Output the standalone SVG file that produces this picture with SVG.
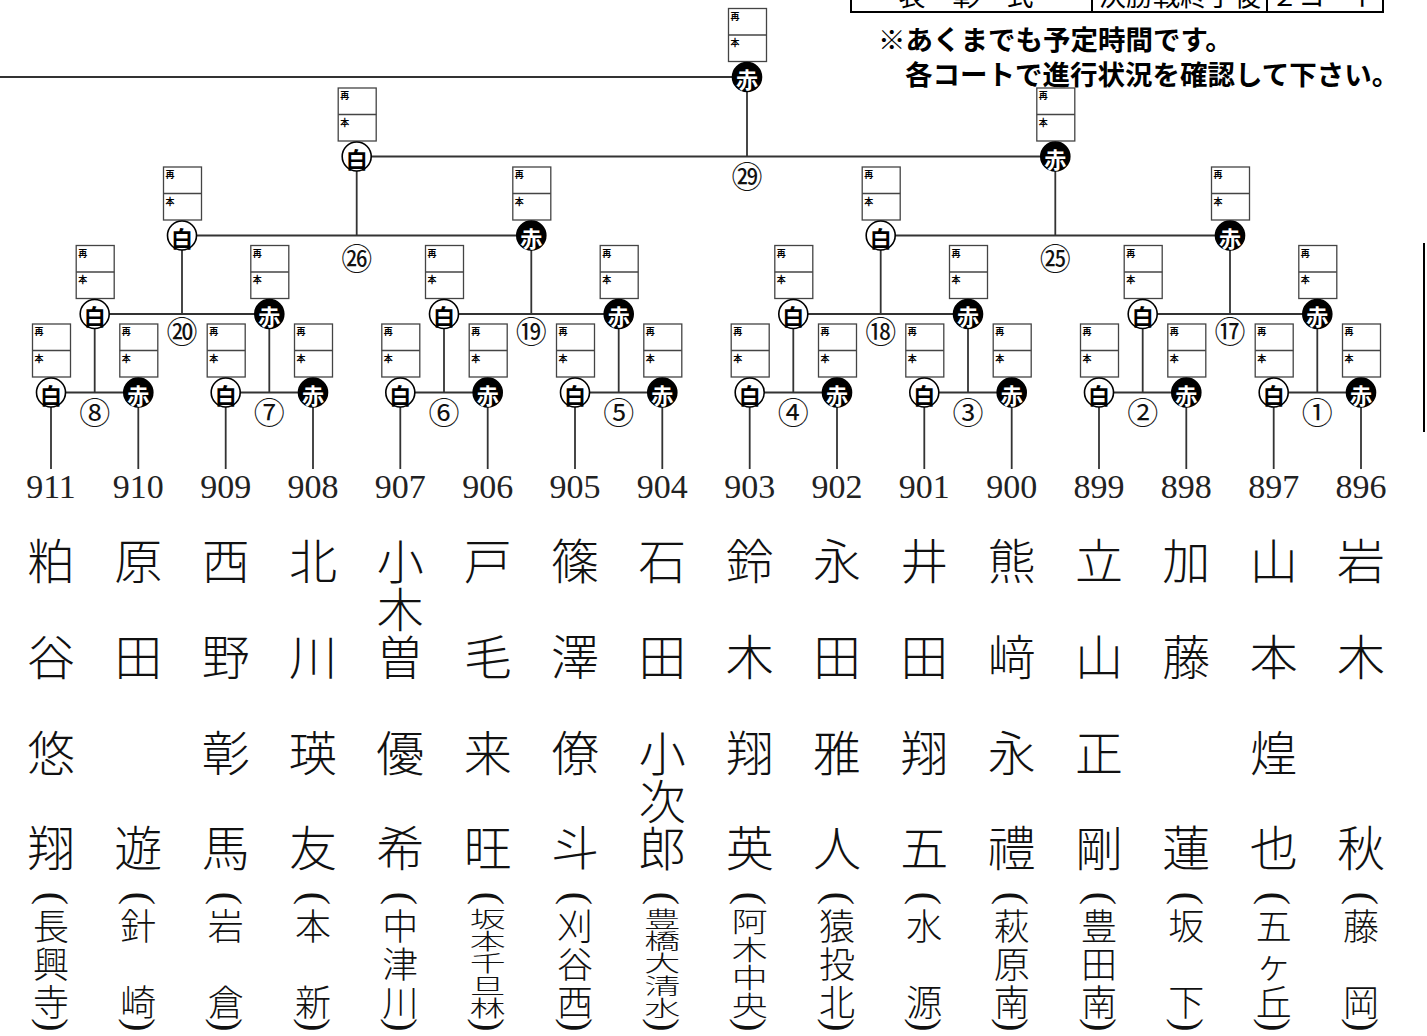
<svg xmlns="http://www.w3.org/2000/svg" width="1427" height="1036" viewBox="0 0 1427 1036">
<style>
.ln{fill:none;stroke:#333;stroke-width:1.8}
.bx{fill:#fff;stroke:#444;stroke-width:1.3}
.dv{stroke:#444;stroke-width:1.3}
.bt{font-family:"Noto Sans CJK JP",sans-serif;font-size:9px;font-weight:700;fill:#000}
.cw{fill:#fff;stroke:#000;stroke-width:1.6}
.cb{fill:#000;stroke:#000;stroke-width:1.6}
.mk{font-family:"Noto Sans CJK JP",sans-serif;font-size:22px;font-weight:700;text-anchor:middle;dominant-baseline:central}
.mw{fill:#000}
.mb{fill:#fff}
.rn{font-family:"Noto Sans CJK JP",sans-serif;font-size:31px;text-anchor:middle;dominant-baseline:central;fill:#111}
.num{font-family:"Liberation Serif",serif;font-size:34px;text-anchor:middle;fill:#222}
.nm{font-family:"Noto Sans CJK JP",sans-serif;font-size:48px;font-weight:300;text-anchor:middle;dominant-baseline:central;fill:#111}
.n3{font-size:47px}
.sc{font-family:"Noto Sans CJK JP",sans-serif;font-size:36px;font-weight:300;text-anchor:middle;dominant-baseline:central;fill:#111}
.pr{font-family:"Liberation Serif",serif;font-size:40px;text-anchor:middle;dominant-baseline:central;fill:#111}
.note{font-family:"Noto Sans CJK JP",sans-serif;font-size:27.5px;font-weight:700;dominant-baseline:central;fill:#000}
.tt{font-family:"Noto Sans CJK JP",sans-serif;font-size:27px;text-anchor:middle;fill:#000}
.tb{fill:none;stroke:#000;stroke-width:2}
</style>
<rect width="1427" height="1036" fill="#fff"/>

<g id="header">
<path class="tb" d="M851 0V12H1383V0M1092 0V12M1267 0V12"/>
<text class="tt" x="966" y="6">表　彰　式</text>
<text class="tt" x="1180" y="6">決勝戦終了後</text>
<text class="tt" x="1325" y="6">２コート</text>
<text class="note" x="878" y="38">※あくまでも予定時間です。</text>
<text class="note" x="905" y="73">各コートで進行状況を確認して下さい。</text>
<path class="tb" d="M1424 243V432"/>
</g>

<g id="connectors">
<path class="ln" d="M51 392.5H138.3M94.7 392.5V314M51 392.5V469M138.3 392.5V469"/>
<path class="ln" d="M225.7 392.5H313M269.3 392.5V314M225.7 392.5V469M313 392.5V469"/>
<path class="ln" d="M400.3 392.5H487.7M444 392.5V314M400.3 392.5V469M487.7 392.5V469"/>
<path class="ln" d="M575 392.5H662.3M618.7 392.5V314M575 392.5V469M662.3 392.5V469"/>
<path class="ln" d="M749.7 392.5H837M793.3 392.5V314M749.7 392.5V469M837 392.5V469"/>
<path class="ln" d="M924.3 392.5H1011.7M968 392.5V314M924.3 392.5V469M1011.7 392.5V469"/>
<path class="ln" d="M1099 392.5H1186.3M1142.7 392.5V314M1099 392.5V469M1186.3 392.5V469"/>
<path class="ln" d="M1273.7 392.5H1361M1317.3 392.5V314M1273.7 392.5V469M1361 392.5V469"/>
<path class="ln" d="M94.7 314H269.3M182 314V235.5"/>
<path class="ln" d="M444 314H618.7M531.3 314V235.5"/>
<path class="ln" d="M793.3 314H968M880.7 314V235.5"/>
<path class="ln" d="M1142.7 314H1317.3M1230 314V235.5"/>
<path class="ln" d="M182 235.5H531.3M356.7 235.5V156.5"/>
<path class="ln" d="M880.7 235.5H1230M1055.3 235.5V156.5"/>
<path class="ln" d="M356.7 156.5H1055.3M747 156.5V77"/>
<path class="ln" d="M0 77H747"/>
<text class="rn" x="94.7" y="410.5">⑧</text>
<text class="rn" x="269.3" y="410.5">⑦</text>
<text class="rn" x="444" y="410.5">⑥</text>
<text class="rn" x="618.7" y="410.5">⑤</text>
<text class="rn" x="793.3" y="410.5">④</text>
<text class="rn" x="968" y="410.5">③</text>
<text class="rn" x="1142.7" y="410.5">②</text>
<text class="rn" x="1317.3" y="410.5">①</text>
<text class="rn" x="182" y="329.5">⑳</text>
<text class="rn" x="531.3" y="329.5">⑲</text>
<text class="rn" x="880.7" y="329.5">⑱</text>
<text class="rn" x="1230" y="329.5">⑰</text>
<text class="rn" x="356.7" y="256">㉖</text>
<text class="rn" x="1055.3" y="256">㉕</text>
<text class="rn" x="747" y="174">㉙</text>
</g>

<g id="r1-911" transform="translate(51,392.5)"><rect class="bx" x="-18.5" y="-68.5" width="38" height="53"/><line class="dv" x1="-18.5" y1="-42" x2="19.5" y2="-42"/><text class="bt" x="-16.5" y="-57.5">再</text><text class="bt" x="-16.5" y="-31">本</text><circle class="cw" r="14.5"/><text class="mk mw" y="1">白</text></g>
<g id="r1-910" transform="translate(138.3,392.5)"><rect class="bx" x="-18.5" y="-68.5" width="38" height="53"/><line class="dv" x1="-18.5" y1="-42" x2="19.5" y2="-42"/><text class="bt" x="-16.5" y="-57.5">再</text><text class="bt" x="-16.5" y="-31">本</text><circle class="cb" r="14.5"/><text class="mk mb" y="1">赤</text></g>
<g id="r1-909" transform="translate(225.7,392.5)"><rect class="bx" x="-18.5" y="-68.5" width="38" height="53"/><line class="dv" x1="-18.5" y1="-42" x2="19.5" y2="-42"/><text class="bt" x="-16.5" y="-57.5">再</text><text class="bt" x="-16.5" y="-31">本</text><circle class="cw" r="14.5"/><text class="mk mw" y="1">白</text></g>
<g id="r1-908" transform="translate(313,392.5)"><rect class="bx" x="-18.5" y="-68.5" width="38" height="53"/><line class="dv" x1="-18.5" y1="-42" x2="19.5" y2="-42"/><text class="bt" x="-16.5" y="-57.5">再</text><text class="bt" x="-16.5" y="-31">本</text><circle class="cb" r="14.5"/><text class="mk mb" y="1">赤</text></g>
<g id="r1-907" transform="translate(400.3,392.5)"><rect class="bx" x="-18.5" y="-68.5" width="38" height="53"/><line class="dv" x1="-18.5" y1="-42" x2="19.5" y2="-42"/><text class="bt" x="-16.5" y="-57.5">再</text><text class="bt" x="-16.5" y="-31">本</text><circle class="cw" r="14.5"/><text class="mk mw" y="1">白</text></g>
<g id="r1-906" transform="translate(487.7,392.5)"><rect class="bx" x="-18.5" y="-68.5" width="38" height="53"/><line class="dv" x1="-18.5" y1="-42" x2="19.5" y2="-42"/><text class="bt" x="-16.5" y="-57.5">再</text><text class="bt" x="-16.5" y="-31">本</text><circle class="cb" r="14.5"/><text class="mk mb" y="1">赤</text></g>
<g id="r1-905" transform="translate(575,392.5)"><rect class="bx" x="-18.5" y="-68.5" width="38" height="53"/><line class="dv" x1="-18.5" y1="-42" x2="19.5" y2="-42"/><text class="bt" x="-16.5" y="-57.5">再</text><text class="bt" x="-16.5" y="-31">本</text><circle class="cw" r="14.5"/><text class="mk mw" y="1">白</text></g>
<g id="r1-904" transform="translate(662.3,392.5)"><rect class="bx" x="-18.5" y="-68.5" width="38" height="53"/><line class="dv" x1="-18.5" y1="-42" x2="19.5" y2="-42"/><text class="bt" x="-16.5" y="-57.5">再</text><text class="bt" x="-16.5" y="-31">本</text><circle class="cb" r="14.5"/><text class="mk mb" y="1">赤</text></g>
<g id="r1-903" transform="translate(749.7,392.5)"><rect class="bx" x="-18.5" y="-68.5" width="38" height="53"/><line class="dv" x1="-18.5" y1="-42" x2="19.5" y2="-42"/><text class="bt" x="-16.5" y="-57.5">再</text><text class="bt" x="-16.5" y="-31">本</text><circle class="cw" r="14.5"/><text class="mk mw" y="1">白</text></g>
<g id="r1-902" transform="translate(837,392.5)"><rect class="bx" x="-18.5" y="-68.5" width="38" height="53"/><line class="dv" x1="-18.5" y1="-42" x2="19.5" y2="-42"/><text class="bt" x="-16.5" y="-57.5">再</text><text class="bt" x="-16.5" y="-31">本</text><circle class="cb" r="14.5"/><text class="mk mb" y="1">赤</text></g>
<g id="r1-901" transform="translate(924.3,392.5)"><rect class="bx" x="-18.5" y="-68.5" width="38" height="53"/><line class="dv" x1="-18.5" y1="-42" x2="19.5" y2="-42"/><text class="bt" x="-16.5" y="-57.5">再</text><text class="bt" x="-16.5" y="-31">本</text><circle class="cw" r="14.5"/><text class="mk mw" y="1">白</text></g>
<g id="r1-900" transform="translate(1011.7,392.5)"><rect class="bx" x="-18.5" y="-68.5" width="38" height="53"/><line class="dv" x1="-18.5" y1="-42" x2="19.5" y2="-42"/><text class="bt" x="-16.5" y="-57.5">再</text><text class="bt" x="-16.5" y="-31">本</text><circle class="cb" r="14.5"/><text class="mk mb" y="1">赤</text></g>
<g id="r1-899" transform="translate(1099,392.5)"><rect class="bx" x="-18.5" y="-68.5" width="38" height="53"/><line class="dv" x1="-18.5" y1="-42" x2="19.5" y2="-42"/><text class="bt" x="-16.5" y="-57.5">再</text><text class="bt" x="-16.5" y="-31">本</text><circle class="cw" r="14.5"/><text class="mk mw" y="1">白</text></g>
<g id="r1-898" transform="translate(1186.3,392.5)"><rect class="bx" x="-18.5" y="-68.5" width="38" height="53"/><line class="dv" x1="-18.5" y1="-42" x2="19.5" y2="-42"/><text class="bt" x="-16.5" y="-57.5">再</text><text class="bt" x="-16.5" y="-31">本</text><circle class="cb" r="14.5"/><text class="mk mb" y="1">赤</text></g>
<g id="r1-897" transform="translate(1273.7,392.5)"><rect class="bx" x="-18.5" y="-68.5" width="38" height="53"/><line class="dv" x1="-18.5" y1="-42" x2="19.5" y2="-42"/><text class="bt" x="-16.5" y="-57.5">再</text><text class="bt" x="-16.5" y="-31">本</text><circle class="cw" r="14.5"/><text class="mk mw" y="1">白</text></g>
<g id="r1-896" transform="translate(1361,392.5)"><rect class="bx" x="-18.5" y="-68.5" width="38" height="53"/><line class="dv" x1="-18.5" y1="-42" x2="19.5" y2="-42"/><text class="bt" x="-16.5" y="-57.5">再</text><text class="bt" x="-16.5" y="-31">本</text><circle class="cb" r="14.5"/><text class="mk mb" y="1">赤</text></g>

<g id="r2-8" transform="translate(94.7,314)"><rect class="bx" x="-18.5" y="-68.5" width="38" height="53"/><line class="dv" x1="-18.5" y1="-42" x2="19.5" y2="-42"/><text class="bt" x="-16.5" y="-57.5">再</text><text class="bt" x="-16.5" y="-31">本</text><circle class="cw" r="14.5"/><text class="mk mw" y="1">白</text></g>
<g id="r2-7" transform="translate(269.3,314)"><rect class="bx" x="-18.5" y="-68.5" width="38" height="53"/><line class="dv" x1="-18.5" y1="-42" x2="19.5" y2="-42"/><text class="bt" x="-16.5" y="-57.5">再</text><text class="bt" x="-16.5" y="-31">本</text><circle class="cb" r="14.5"/><text class="mk mb" y="1">赤</text></g>
<g id="r2-6" transform="translate(444,314)"><rect class="bx" x="-18.5" y="-68.5" width="38" height="53"/><line class="dv" x1="-18.5" y1="-42" x2="19.5" y2="-42"/><text class="bt" x="-16.5" y="-57.5">再</text><text class="bt" x="-16.5" y="-31">本</text><circle class="cw" r="14.5"/><text class="mk mw" y="1">白</text></g>
<g id="r2-5" transform="translate(618.7,314)"><rect class="bx" x="-18.5" y="-68.5" width="38" height="53"/><line class="dv" x1="-18.5" y1="-42" x2="19.5" y2="-42"/><text class="bt" x="-16.5" y="-57.5">再</text><text class="bt" x="-16.5" y="-31">本</text><circle class="cb" r="14.5"/><text class="mk mb" y="1">赤</text></g>
<g id="r2-4" transform="translate(793.3,314)"><rect class="bx" x="-18.5" y="-68.5" width="38" height="53"/><line class="dv" x1="-18.5" y1="-42" x2="19.5" y2="-42"/><text class="bt" x="-16.5" y="-57.5">再</text><text class="bt" x="-16.5" y="-31">本</text><circle class="cw" r="14.5"/><text class="mk mw" y="1">白</text></g>
<g id="r2-3" transform="translate(968,314)"><rect class="bx" x="-18.5" y="-68.5" width="38" height="53"/><line class="dv" x1="-18.5" y1="-42" x2="19.5" y2="-42"/><text class="bt" x="-16.5" y="-57.5">再</text><text class="bt" x="-16.5" y="-31">本</text><circle class="cb" r="14.5"/><text class="mk mb" y="1">赤</text></g>
<g id="r2-2" transform="translate(1142.7,314)"><rect class="bx" x="-18.5" y="-68.5" width="38" height="53"/><line class="dv" x1="-18.5" y1="-42" x2="19.5" y2="-42"/><text class="bt" x="-16.5" y="-57.5">再</text><text class="bt" x="-16.5" y="-31">本</text><circle class="cw" r="14.5"/><text class="mk mw" y="1">白</text></g>
<g id="r2-1" transform="translate(1317.3,314)"><rect class="bx" x="-18.5" y="-68.5" width="38" height="53"/><line class="dv" x1="-18.5" y1="-42" x2="19.5" y2="-42"/><text class="bt" x="-16.5" y="-57.5">再</text><text class="bt" x="-16.5" y="-31">本</text><circle class="cb" r="14.5"/><text class="mk mb" y="1">赤</text></g>

<g id="r3-20" transform="translate(182,235.5)"><rect class="bx" x="-18.5" y="-68.5" width="38" height="53"/><line class="dv" x1="-18.5" y1="-42" x2="19.5" y2="-42"/><text class="bt" x="-16.5" y="-57.5">再</text><text class="bt" x="-16.5" y="-31">本</text><circle class="cw" r="14.5"/><text class="mk mw" y="1">白</text></g>
<g id="r3-19" transform="translate(531.3,235.5)"><rect class="bx" x="-18.5" y="-68.5" width="38" height="53"/><line class="dv" x1="-18.5" y1="-42" x2="19.5" y2="-42"/><text class="bt" x="-16.5" y="-57.5">再</text><text class="bt" x="-16.5" y="-31">本</text><circle class="cb" r="14.5"/><text class="mk mb" y="1">赤</text></g>
<g id="r3-18" transform="translate(880.7,235.5)"><rect class="bx" x="-18.5" y="-68.5" width="38" height="53"/><line class="dv" x1="-18.5" y1="-42" x2="19.5" y2="-42"/><text class="bt" x="-16.5" y="-57.5">再</text><text class="bt" x="-16.5" y="-31">本</text><circle class="cw" r="14.5"/><text class="mk mw" y="1">白</text></g>
<g id="r3-17" transform="translate(1230,235.5)"><rect class="bx" x="-18.5" y="-68.5" width="38" height="53"/><line class="dv" x1="-18.5" y1="-42" x2="19.5" y2="-42"/><text class="bt" x="-16.5" y="-57.5">再</text><text class="bt" x="-16.5" y="-31">本</text><circle class="cb" r="14.5"/><text class="mk mb" y="1">赤</text></g>

<g id="r4-26" transform="translate(356.7,156.5)"><rect class="bx" x="-18.5" y="-68.5" width="38" height="53"/><line class="dv" x1="-18.5" y1="-42" x2="19.5" y2="-42"/><text class="bt" x="-16.5" y="-57.5">再</text><text class="bt" x="-16.5" y="-31">本</text><circle class="cw" r="14.5"/><text class="mk mw" y="1">白</text></g>
<g id="r4-25" transform="translate(1055.3,156.5)"><rect class="bx" x="-18.5" y="-68.5" width="38" height="53"/><line class="dv" x1="-18.5" y1="-42" x2="19.5" y2="-42"/><text class="bt" x="-16.5" y="-57.5">再</text><text class="bt" x="-16.5" y="-31">本</text><circle class="cb" r="14.5"/><text class="mk mb" y="1">赤</text></g>

<g id="r5-29" transform="translate(747,77)"><rect class="bx" x="-18.5" y="-68.5" width="38" height="53"/><line class="dv" x1="-18.5" y1="-42" x2="19.5" y2="-42"/><text class="bt" x="-16.5" y="-57.5">再</text><text class="bt" x="-16.5" y="-31">本</text><circle class="cb" r="14.5"/><text class="mk mb" y="1">赤</text></g>

<g id="p911"><text class="num" x="51" y="498">911</text><text class="nm"><tspan x="51" y="558">粕</tspan><tspan x="51" y="654">谷</tspan><tspan x="51" y="750">悠</tspan><tspan x="51" y="845">翔</tspan></text><text class="pr" transform="translate(53,898.5) rotate(90)">(</text><text class="sc"><tspan x="51" y="924">長</tspan><tspan x="51" y="962">興</tspan><tspan x="51" y="1000">寺</tspan></text><text class="pr" transform="translate(53,1025) rotate(90)">)</text></g>
<g id="p910"><text class="num" x="138.3" y="498">910</text><text class="nm"><tspan x="138.3" y="558">原</tspan><tspan x="138.3" y="654">田</tspan><tspan x="138.3" y="845">遊</tspan></text><text class="pr" transform="translate(140.3,898.5) rotate(90)">(</text><text class="sc"><tspan x="138.3" y="924">針</tspan><tspan x="138.3" y="1000">崎</tspan></text><text class="pr" transform="translate(140.3,1025) rotate(90)">)</text></g>
<g id="p909"><text class="num" x="225.7" y="498">909</text><text class="nm"><tspan x="225.7" y="558">西</tspan><tspan x="225.7" y="654">野</tspan><tspan x="225.7" y="750">彰</tspan><tspan x="225.7" y="845">馬</tspan></text><text class="pr" transform="translate(227.7,898.5) rotate(90)">(</text><text class="sc"><tspan x="225.7" y="924">岩</tspan><tspan x="225.7" y="1000">倉</tspan></text><text class="pr" transform="translate(227.7,1025) rotate(90)">)</text></g>
<g id="p908"><text class="num" x="313" y="498">908</text><text class="nm"><tspan x="313" y="558">北</tspan><tspan x="313" y="654">川</tspan><tspan x="313" y="750">瑛</tspan><tspan x="313" y="845">友</tspan></text><text class="pr" transform="translate(315,898.5) rotate(90)">(</text><text class="sc"><tspan x="313" y="924">本</tspan><tspan x="313" y="1000">新</tspan></text><text class="pr" transform="translate(315,1025) rotate(90)">)</text></g>
<g id="p907"><text class="num" x="400.3" y="498">907</text><text class="nm"><tspan class="n3" x="400.3" y="558">小</tspan><tspan class="n3" x="400.3" y="606">木</tspan><tspan class="n3" x="400.3" y="654">曽</tspan><tspan x="400.3" y="750">優</tspan><tspan x="400.3" y="845">希</tspan></text><text class="pr" transform="translate(402.3,898.5) rotate(90)">(</text><text class="sc"><tspan x="400.3" y="924">中</tspan><tspan x="400.3" y="962">津</tspan><tspan x="400.3" y="1000">川</tspan></text><text class="pr" transform="translate(402.3,1025) rotate(90)">)</text></g>
<g id="p906"><text class="num" x="487.7" y="498">906</text><text class="nm"><tspan x="487.7" y="558">戸</tspan><tspan x="487.7" y="654">毛</tspan><tspan x="487.7" y="750">来</tspan><tspan x="487.7" y="845">旺</tspan></text><text class="pr" transform="translate(489.7,898.5) rotate(90)">(</text><text class="sc" transform="matrix(1 0 0 0.6 0 384.8)"><tspan x="487.7" y="887.3">坂</tspan><tspan x="487.7" y="924.7">本</tspan><tspan x="487.7" y="962">千</tspan><tspan x="487.7" y="999.3">旦</tspan><tspan x="487.7" y="1036.7">林</tspan></text><text class="pr" transform="translate(489.7,1025) rotate(90)">)</text></g>
<g id="p905"><text class="num" x="575" y="498">905</text><text class="nm"><tspan x="575" y="558">篠</tspan><tspan x="575" y="654">澤</tspan><tspan x="575" y="750">僚</tspan><tspan x="575" y="845">斗</tspan></text><text class="pr" transform="translate(577,898.5) rotate(90)">(</text><text class="sc"><tspan x="575" y="924">刈</tspan><tspan x="575" y="962">谷</tspan><tspan x="575" y="1000">西</tspan></text><text class="pr" transform="translate(577,1025) rotate(90)">)</text></g>
<g id="p904"><text class="num" x="662.3" y="498">904</text><text class="nm"><tspan x="662.3" y="558">石</tspan><tspan x="662.3" y="654">田</tspan><tspan class="n3" x="662.3" y="750">小</tspan><tspan class="n3" x="662.3" y="797.5">次</tspan><tspan class="n3" x="662.3" y="845">郎</tspan></text><text class="pr" transform="translate(664.3,898.5) rotate(90)">(</text><text class="sc" transform="matrix(1 0 0 0.6 0 384.8)"><tspan x="662.3" y="887.3">豊</tspan><tspan x="662.3" y="924.7">橋</tspan><tspan x="662.3" y="962">大</tspan><tspan x="662.3" y="999.3">清</tspan><tspan x="662.3" y="1036.7">水</tspan></text><text class="pr" transform="translate(664.3,1025) rotate(90)">)</text></g>
<g id="p903"><text class="num" x="749.7" y="498">903</text><text class="nm"><tspan x="749.7" y="558">鈴</tspan><tspan x="749.7" y="654">木</tspan><tspan x="749.7" y="750">翔</tspan><tspan x="749.7" y="845">英</tspan></text><text class="pr" transform="translate(751.7,898.5) rotate(90)">(</text><text class="sc" transform="matrix(1 0 0 0.76 0 230.9)"><tspan x="749.7" y="906.7">阿</tspan><tspan x="749.7" y="943.6">木</tspan><tspan x="749.7" y="980.4">中</tspan><tspan x="749.7" y="1017.3">央</tspan></text><text class="pr" transform="translate(751.7,1025) rotate(90)">)</text></g>
<g id="p902"><text class="num" x="837" y="498">902</text><text class="nm"><tspan x="837" y="558">永</tspan><tspan x="837" y="654">田</tspan><tspan x="837" y="750">雅</tspan><tspan x="837" y="845">人</tspan></text><text class="pr" transform="translate(839,898.5) rotate(90)">(</text><text class="sc"><tspan x="837" y="924">猿</tspan><tspan x="837" y="962">投</tspan><tspan x="837" y="1000">北</tspan></text><text class="pr" transform="translate(839,1025) rotate(90)">)</text></g>
<g id="p901"><text class="num" x="924.3" y="498">901</text><text class="nm"><tspan x="924.3" y="558">井</tspan><tspan x="924.3" y="654">田</tspan><tspan x="924.3" y="750">翔</tspan><tspan x="924.3" y="845">五</tspan></text><text class="pr" transform="translate(926.3,898.5) rotate(90)">(</text><text class="sc"><tspan x="924.3" y="924">水</tspan><tspan x="924.3" y="1000">源</tspan></text><text class="pr" transform="translate(926.3,1025) rotate(90)">)</text></g>
<g id="p900"><text class="num" x="1011.7" y="498">900</text><text class="nm"><tspan x="1011.7" y="558">熊</tspan><tspan x="1011.7" y="654">﨑</tspan><tspan x="1011.7" y="750">永</tspan><tspan x="1011.7" y="845">禮</tspan></text><text class="pr" transform="translate(1013.7,898.5) rotate(90)">(</text><text class="sc"><tspan x="1011.7" y="924">萩</tspan><tspan x="1011.7" y="962">原</tspan><tspan x="1011.7" y="1000">南</tspan></text><text class="pr" transform="translate(1013.7,1025) rotate(90)">)</text></g>
<g id="p899"><text class="num" x="1099" y="498">899</text><text class="nm"><tspan x="1099" y="558">立</tspan><tspan x="1099" y="654">山</tspan><tspan x="1099" y="750">正</tspan><tspan x="1099" y="845">剛</tspan></text><text class="pr" transform="translate(1101,898.5) rotate(90)">(</text><text class="sc"><tspan x="1099" y="924">豊</tspan><tspan x="1099" y="962">田</tspan><tspan x="1099" y="1000">南</tspan></text><text class="pr" transform="translate(1101,1025) rotate(90)">)</text></g>
<g id="p898"><text class="num" x="1186.3" y="498">898</text><text class="nm"><tspan x="1186.3" y="558">加</tspan><tspan x="1186.3" y="654">藤</tspan><tspan x="1186.3" y="845">蓮</tspan></text><text class="pr" transform="translate(1188.3,898.5) rotate(90)">(</text><text class="sc"><tspan x="1186.3" y="924">坂</tspan><tspan x="1186.3" y="1000">下</tspan></text><text class="pr" transform="translate(1188.3,1025) rotate(90)">)</text></g>
<g id="p897"><text class="num" x="1273.7" y="498">897</text><text class="nm"><tspan x="1273.7" y="558">山</tspan><tspan x="1273.7" y="654">本</tspan><tspan x="1273.7" y="750">煌</tspan><tspan x="1273.7" y="845">也</tspan></text><text class="pr" transform="translate(1275.7,898.5) rotate(90)">(</text><text class="sc"><tspan x="1273.7" y="924">五</tspan><tspan x="1273.7" y="962">ヶ</tspan><tspan x="1273.7" y="1000">丘</tspan></text><text class="pr" transform="translate(1275.7,1025) rotate(90)">)</text></g>
<g id="p896"><text class="num" x="1361" y="498">896</text><text class="nm"><tspan x="1361" y="558">岩</tspan><tspan x="1361" y="654">木</tspan><tspan x="1361" y="845">秋</tspan></text><text class="pr" transform="translate(1363,898.5) rotate(90)">(</text><text class="sc"><tspan x="1361" y="924">藤</tspan><tspan x="1361" y="1000">岡</tspan></text><text class="pr" transform="translate(1363,1025) rotate(90)">)</text></g>
</svg>
